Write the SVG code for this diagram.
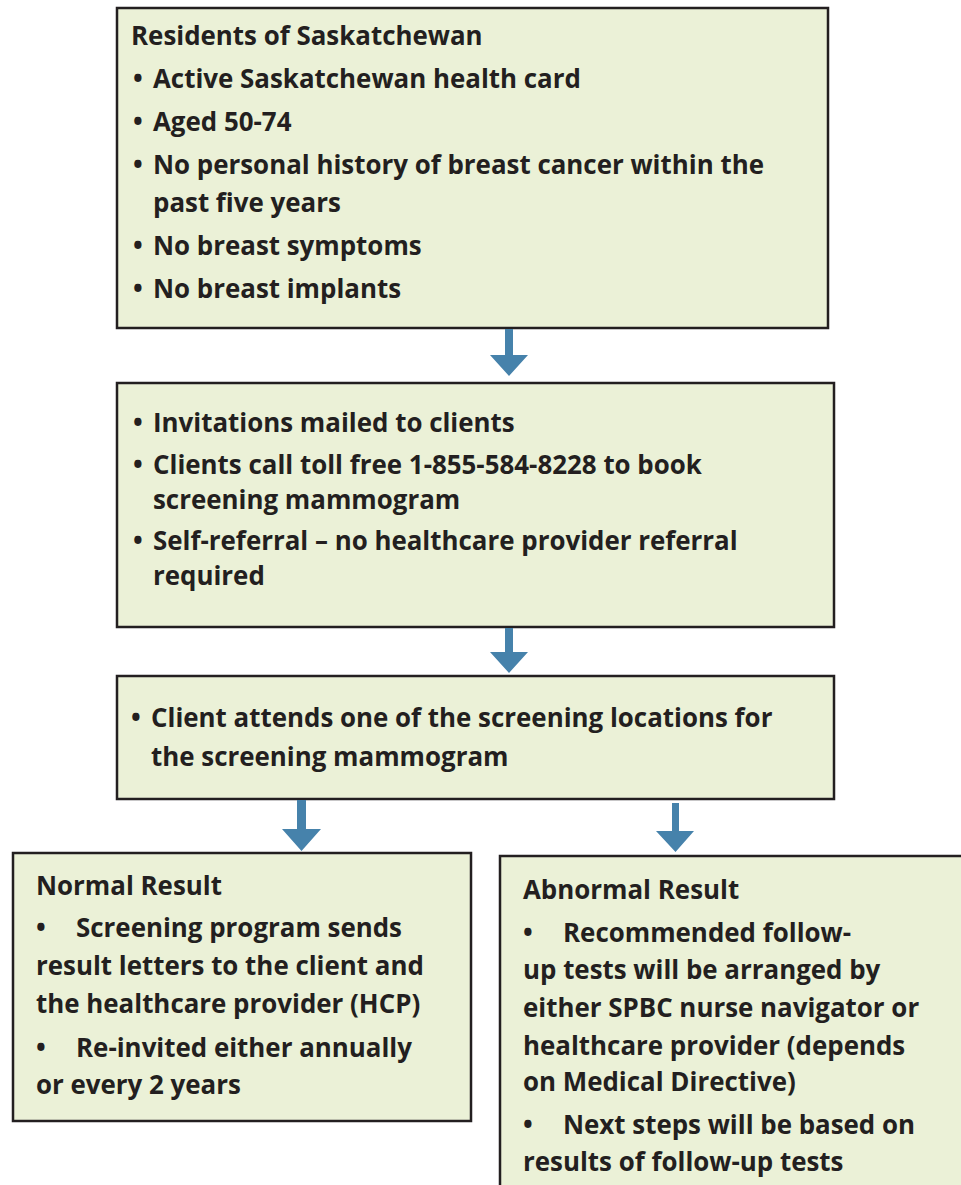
<svg xmlns="http://www.w3.org/2000/svg" width="961" height="1185" viewBox="0 0 961 1185">
<style>
.box{fill:#ebf1d7;stroke:#231f20;stroke-width:2.5}
text{font-family:"Open Sans","Liberation Sans",sans-serif;font-weight:bold;font-size:25.9px;fill:#231f20}
.arr{fill:#4682ab}
</style>
<rect width="961" height="1185" fill="#ffffff"/>
<g id="node-eligibility">
<rect class="box" x="117" y="8" width="711" height="320"/>
<text x="131" y="45">Residents of Saskatchewan</text>
<text x="133" y="88">•</text><text x="153" y="88">Active Saskatchewan health card</text>
<text x="133" y="131">•</text><text x="153" y="131">Aged 50-74</text>
<text x="133" y="174">•</text><text x="153" y="174">No personal history of breast cancer within the</text>
<text x="153" y="212">past five years</text>
<text x="133" y="255">•</text><text x="153" y="255">No breast symptoms</text>
<text x="133" y="298">•</text><text x="153" y="298">No breast implants</text>
</g>
<g id="node-invitation">
<rect class="box" x="117" y="383" width="717" height="244"/>
<text x="133" y="432">•</text><text x="153" y="432">Invitations mailed to clients</text>
<text x="133" y="474">•</text><text x="153" y="474">Clients call toll free 1-855-584-8228 to book</text>
<text x="153" y="509">screening mammogram</text>
<text x="133" y="550">•</text><text x="153" y="550">Self-referral – no healthcare provider referral</text>
<text x="153" y="585">required</text>
</g>
<g id="node-attend">
<rect class="box" x="117" y="676" width="717" height="123"/>
<text x="131" y="727">•</text><text x="151" y="727">Client attends one of the screening locations for</text>
<text x="151" y="766">the screening mammogram</text>
</g>
<g id="node-normal">
<rect class="box" x="13" y="853" width="458" height="268"/>
<text x="36" y="895">Normal Result</text>
<text x="36" y="937">•</text><text x="76" y="937">Screening program sends</text>
<text x="36" y="975">result letters to the client and</text>
<text x="36" y="1013">the healthcare provider (HCP)</text>
<text x="36" y="1057">•</text><text x="76" y="1057">Re-invited either annually</text>
<text x="36" y="1094">or every 2 years</text>
</g>
<g id="node-abnormal">
<rect class="box" x="500" y="856" width="480" height="350"/>
<text x="523" y="899">Abnormal Result</text>
<text x="523" y="942">•</text><text x="563" y="942">Recommended follow-</text>
<text x="523" y="979">up tests will be arranged by</text>
<text x="523" y="1017">either SPBC nurse navigator or</text>
<text x="523" y="1055">healthcare provider (depends</text>
<text x="523" y="1091">on Medical Directive)</text>
<text x="523" y="1134">•</text><text x="563" y="1134">Next steps will be based on</text>
<text x="523" y="1171">results of follow-up tests</text>
</g>
<g id="connectors">
<polygon class="arr" points="505,329 513,329 513,355 528,355 509,376 490,355 505,355"/>
<polygon class="arr" points="505,628 513,628 513,652 528,652 509,673 490,652 505,652"/>
<polygon class="arr" points="297,800 306,800 306,829 321,829 301.5,851 282,829 297,829"/>
<polygon class="arr" points="672,803 679,803 679,831 694,831 675.5,852 656,831 672,831"/>
</g>
</svg>
